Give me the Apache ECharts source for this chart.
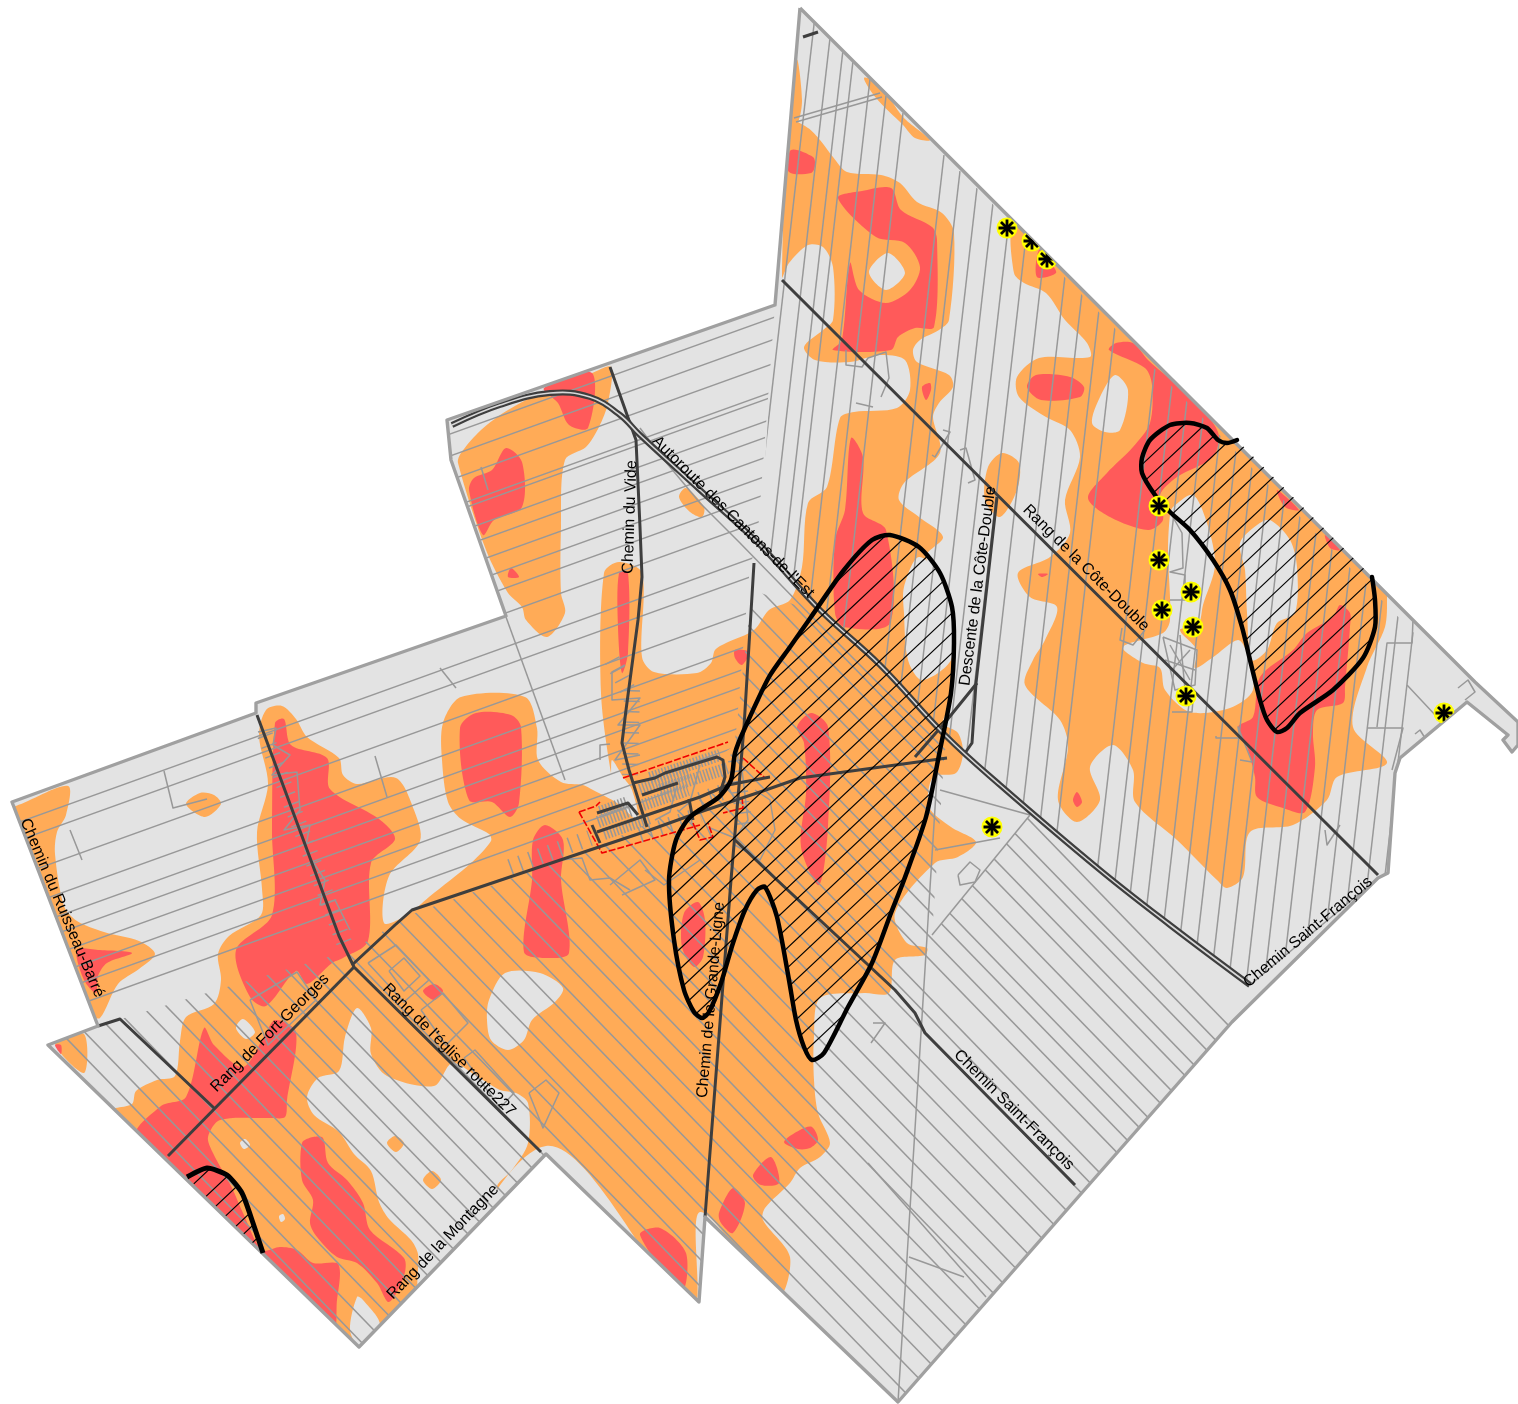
<!DOCTYPE html>
<html><head><meta charset="utf-8">
<style>html,body{margin:0;padding:0;background:#fff}#map{width:1518px;height:1404px}</style>
<script src="https://cdn.jsdelivr.net/npm/echarts@6/dist/echarts.min.js"></script>
</head><body><div id="map"></div>
<script>
// ---- data: map coordinates ----
const territory=[[800,8],[1475,682],[1518,722],[1518,745],[1512,752],[1503,740],[1508,735],[1467,702],[1400,758],[1395,773],[1388,873],[1378,878],[1232,1022],[898,1402],[705,1217],[699,1302],[546,1154],[359,1347],[48,1045],[98,1026],[12,802],[256,713],[256,703],[506,616],[451,460],[447,420],[775,305]];
const orangeZones=[
[[791,122],[808,128],[820,140],[833,157],[847,172],[881,175],[900,183],[917,202],[942,213],[954,233],[949,320],[939,330],[920,340],[913,350],[917,362],[949,375],[953,387],[939,403],[933,417],[940,453],[904,483],[899,500],[919,517],[943,537],[926,557],[950,600],[952,700],[943,723],[958,733],[963,753],[956,773],[933,777],[929,807],[951,827],[976,842],[958,857],[935,863],[895,913],[907,943],[927,948],[925,955],[895,960],[889,993],[864,993],[820,998],[814,1037],[814,1080],[818,1113],[830,1143],[820,1157],[800,1168],[790,1183],[765,1208],[763,1220],[790,1257],[778,1296],[700,1212],[692,1310],[546,1146],[359,1360],[110,1112],[132,1104],[136,1091],[157,1080],[175,1076],[180,1041],[186,1017],[214,1004],[221,980],[218,954],[229,936],[261,915],[262,889],[257,832],[268,784],[259,736],[266,710],[282,706],[296,719],[307,737],[339,758],[343,775],[357,784],[396,778],[414,810],[420,841],[389,876],[384,923],[407,915],[429,897],[471,863],[491,841],[489,834],[461,819],[448,802],[442,760],[443,723],[461,697],[525,697],[537,728],[538,760],[561,782],[583,785],[593,790],[617,803],[638,820],[632,790],[623,777],[612,760],[611,773],[601,693],[604,573],[619,562],[642,573],[642,657],[654,672],[697,673],[711,663],[715,650],[726,643],[754,630],[769,610],[790,600],[802,567],[808,503],[827,487],[840,418],[854,412],[897,408],[910,390],[905,360],[880,355],[850,362],[815,360],[804,347],[823,330],[833,320],[833,267],[823,247],[808,245],[789,263],[782,277]],
[[592,373],[611,367],[608,403],[599,427],[586,447],[565,460],[561,527],[561,593],[565,613],[547,637],[526,620],[522,607],[508,593],[486,550],[458,463],[461,453],[481,430],[508,410],[547,390]],
[[679,497],[686,488],[704,507],[702,517],[690,512]],
[[988,467],[1002,453],[1019,463],[1017,490],[1000,517],[985,500]],
[[186,804],[200,793],[214,795],[221,804],[205,817]],
[[16,806],[68,786],[66,815],[57,832],[55,854],[64,906],[77,921],[104,932],[139,941],[155,954],[139,969],[118,984],[100,1018],[90,1013],[12,804]],
[[1014,225],[1014,273],[1024,283],[1046,293],[1065,320],[1087,343],[1090,357],[1039,358],[1017,377],[1019,397],[1046,417],[1070,430],[1080,457],[1065,500],[1070,533],[1050,557],[1018,573],[1030,597],[1057,607],[1045,640],[1033,660],[1025,685],[1060,720],[1068,747],[1058,800],[1077,822],[1100,800],[1090,767],[1113,745],[1133,770],[1135,802],[1177,840],[1217,880],[1227,888],[1243,877],[1250,832],[1293,825],[1327,800],[1337,777],[1387,763],[1353,727],[1367,667],[1385,627],[1387,597],[1385,585],[1060,250]],
[[864,78],[879,83],[903,117],[930,140],[915,138],[903,125],[876,98]],
[[797,60],[802,100],[798,122],[791,122]],
[[55,1043],[84,1034],[84,1073]]
];
const clearZones=[
[[869,272],[888,253],[905,273],[886,290]],
[[904,587],[919,557],[947,583],[954,613],[951,660],[922,680],[908,660],[904,613]],
[[357,1008],[371,1028],[371,1054],[387,1076],[434,1086],[452,1063],[475,1075],[500,1090],[516,1093],[528,1103],[528,1143],[512,1170],[497,1186],[500,1205],[420,1288],[418,1254],[411,1240],[389,1219],[379,1202],[371,1171],[354,1154],[339,1132],[314,1115],[307,1097],[318,1078],[339,1071],[345,1037]],
[[489,1000],[505,973],[540,973],[563,988],[555,1002],[532,1020],[524,1040],[508,1050],[491,1040],[487,1020]],
[[357,1297],[363,1300],[380,1325],[360,1347],[350,1330]],
[[236,1028],[243,1019],[255,1032],[246,1039]],
[[240,1143],[245,1139],[250,1145],[244,1149]],
[[279,1216],[283,1214],[285,1219],[281,1222]],
[[1092,423],[1100,397],[1115,375],[1128,390],[1120,430],[1105,432]],
[[1173,507],[1193,495],[1207,523],[1215,565],[1203,605],[1198,625],[1180,630],[1197,650],[1195,668],[1212,658],[1238,640],[1247,653],[1253,690],[1230,708],[1190,712],[1165,690],[1160,668],[1143,663],[1123,647],[1163,633],[1170,620],[1168,550],[1170,515]],
[[1240,543],[1257,525],[1270,520],[1290,540],[1297,567],[1295,613],[1277,623],[1267,650],[1252,660],[1247,613],[1245,570]]
];
const orangeIslands=[
[[387,1143],[395,1136],[404,1143],[396,1152]],
[[423,1180],[432,1171],[441,1180],[432,1189]]
];
const redZones=[
[[838,198],[862,191],[891,188],[901,210],[932,227],[937,240],[934,327],[915,328],[898,337],[891,350],[833,350],[842,340],[850,263],[859,290],[886,303],[910,290],[920,267],[905,243],[876,237]],
[[791,150],[813,157],[815,166],[811,173],[789,172]],
[[922,387],[930,383],[931,390],[926,400]],
[[1039,250],[1050,262],[1056,273],[1037,277]],
[[1027,387],[1036,375],[1070,377],[1084,387],[1080,397],[1041,400]],
[[1109,350],[1116,343],[1133,343],[1148,360],[1190,397],[1218,432],[1213,457],[1177,477],[1160,495],[1163,520],[1148,530],[1110,517],[1088,498],[1107,473],[1133,447],[1150,423],[1152,385],[1145,368]],
[[1340,605],[1350,613],[1350,627],[1345,687],[1343,703],[1317,710],[1313,733],[1315,767],[1305,812],[1283,808],[1257,797],[1255,777],[1247,747],[1238,727],[1253,717],[1260,677],[1293,650],[1307,633],[1333,617]],
[[1277,490],[1299,510],[1285,507]],
[[1325,535],[1340,550],[1330,548]],
[[1077,792],[1082,802],[1077,807],[1073,800]],
[[1038,574],[1048,574],[1042,577]],
[[851,438],[863,457],[863,513],[886,530],[890,623],[844,627],[835,613],[835,540],[845,510]],
[[797,727],[811,713],[828,727],[828,827],[819,885],[801,847],[806,793],[804,743]],
[[619,573],[628,573],[628,653],[622,673],[618,627]],
[[735,650],[749,652],[742,665],[735,658]],
[[460,728],[476,713],[511,715],[521,727],[519,803],[510,817],[492,802],[469,800]],
[[533,840],[545,825],[563,840],[561,880],[569,953],[545,958],[524,952],[532,880]],
[[506,448],[522,462],[522,507],[494,520],[483,535],[469,490],[474,478],[492,470]],
[[544,388],[592,373],[588,428],[569,425],[558,403]],
[[508,577],[511,568],[519,577]],
[[684,913],[698,902],[705,920],[703,957],[694,967],[682,947]],
[[784,1142],[800,1130],[812,1127],[818,1140],[810,1148],[798,1149]],
[[753,1175],[771,1157],[779,1183],[761,1185]],
[[719,1213],[733,1188],[745,1203],[733,1233],[721,1223]],
[[640,1235],[660,1228],[686,1253],[682,1290]],
[[275,723],[284,719],[291,745],[327,758],[330,789],[379,819],[395,839],[371,863],[368,941],[343,958],[332,963],[307,984],[296,971],[266,1006],[250,997],[236,950],[272,915],[272,830]],
[[204,1028],[214,1045],[243,1067],[264,1037],[275,1020],[296,1032],[287,1100],[285,1117],[270,1118],[220,1120],[208,1137],[213,1153],[232,1188],[243,1213],[262,1250],[280,1247],[297,1250],[313,1263],[337,1263],[340,1273],[337,1300],[332,1332],[136,1139],[161,1106],[186,1097]],
[[302,1143],[313,1137],[323,1138],[328,1163],[347,1180],[363,1203],[370,1230],[404,1258],[404,1276],[389,1302],[377,1283],[357,1263],[337,1257],[317,1237],[310,1223],[313,1200],[302,1180]],
[[77,950],[98,950],[132,953],[107,963],[98,976],[96,993],[84,980]],
[[423,991],[434,984],[443,991],[434,1000]],
[[55,1045],[61,1045],[61,1054]]
];
const northLotTops=[[815,16],[830,38],[843,50],[853,61],[870,79],[886,96],[903,113],[944,155],[960,171],[977,188],[993,203],[1009,220],[1026,237],[1044,255],[1065,276],[1082,293],[1099,310],[1115,327],[1155,368],[1172,385],[1187,400],[1203,417],[1220,434],[1236,451],[1252,467],[1268,484],[1284,500],[1300,516],[1316,533],[1332,549],[1350,567],[1366,583],[1382,600],[1398,616],[1413,632]];
const northLotClip=[[800,8],[1475,695],[1400,758],[1395,773],[1388,873],[1378,878],[1250,985],[1100,870],[1000,785],[945,735],[880,665],[820,610],[760,545],[775,305]];
const northLotLean=-0.115;
const westLotLevels=[488,510,534,562,567,589,605,625,644,662,687,721,739,774,807,829,846,866,886,904,925];
const westLotClip=[[12,802],[256,713],[256,703],[506,616],[451,460],[447,420],[775,305],[757,545],[750,565],[735,745],[590,850],[410,915],[352,950],[200,995],[98,1026]];
const westLotSlope=-0.36;
const southLotLevels=[-240,-212,-193,-165,-145,-116,-92,-65,-46,-21,2,40,60,79,112,139,165,195,222,250,270,300,330,352,380,405,432,460,485,510,538,565,595,620,650,675,700,728,752,782,808,835,860,890,915,945,970];
const southLotClip=[[48,1045],[98,1026],[200,995],[352,950],[410,915],[590,850],[720,790],[735,740],[752,590],[810,610],[945,745],[932,935],[1030,815],[1252,985],[1232,1022],[898,1402],[705,1217],[699,1302],[546,1154],[359,1347]];
const southLotSlope=1.03;
const parcelLines=[
[[938,760],[898,1402]],[[1030,815],[932,935]],[[940,790],[1030,815]],[[935,850],[1000,838]],
[[909,1257],[964,1277]],[[868,1163],[986,1297]],[[1378,878],[1250,985]],
[[794,118],[880,93]],[[796,122],[882,97]],
[[640,428],[660,455],[700,503],[740,543],[820,625],[945,750]],
[[164,771],[173,808],[207,799]],[[70,830],[82,860]],[[375,756],[387,797]],[[481,467],[488,490]],[[506,617],[565,780]],[[440,668],[456,688]],
[[846,350],[846,365],[862,367],[868,358],[886,352],[889,378],[881,397]],
[[856,403],[873,407]],[[943,430],[950,432],[935,457],[932,455]],[[960,450],[966,448],[975,480],[968,483]],
[[1170,512],[1182,533],[1183,568],[1170,572],[1185,575],[1185,600],[1170,600]],[[1122,628],[1120,640],[1133,645],[1145,630]],
[[1216,736],[1216,738],[1240,738],[1238,727],[1252,762],[1240,760]],[[1325,830],[1327,845],[1340,825]],
[[1413,620],[1412,643],[1387,643],[1377,727]],[[1407,685],[1437,717]],[[1368,728],[1403,728],[1392,770]],
[[1458,688],[1468,680],[1475,692],[1465,700]],[[1415,734],[1420,730],[1425,738]],
[[1163,637],[1197,650],[1195,685],[1175,690],[1163,637]],[[1170,645],[1190,680]],[[1190,650],[1172,670]],[[1165,660],[1195,670]],[[1180,635],[1185,690]],[[1172,712],[1192,712],[1193,700]],
[[958,875],[970,862],[980,870],[975,882],[960,885],[958,875]],
[[368,963],[396,945],[429,980],[404,1002],[368,963]],[[389,971],[404,958],[420,976],[404,991],[389,971]],
[[421,1010],[443,993],[468,1023],[446,1045],[421,1010]],[[464,1058],[475,1050],[514,1093],[500,1108],[464,1058]],
[[529,1093],[546,1080],[559,1093],[543,1128],[529,1093]],[[250,1000],[297,972],[316,1000],[268,1045],[250,1000]],
[[610,885],[640,860],[655,880],[622,895]],[[560,860],[582,858],[590,880],[610,878],[630,890]],[[700,860],[664,885],[645,870]],
[[873,1023],[885,1023],[871,1043]],
[[258,732],[276,728],[273,745],[290,755],[272,775],[297,772],[300,810],[284,830],[310,825],[305,850],[325,880],[320,905],[335,900],[350,930]],
[[625,665],[612,672],[612,700],[640,698],[618,725],[640,725],[615,760],[640,755]],
[[742,770],[748,820],[735,838],[710,828]],[[755,790],[770,800],[775,830],[760,860],[735,845]],
[[600,760],[600,745],[610,744]],[[760,700],[737,740],[738,760]],
[[722,775],[735,800],[700,812],[712,838]],[[677,785],[670,812],[655,820]],[[700,765],[690,802],[678,812]]
];
const parcelHash=[
[[598,822],[632,810]],[[604,834],[650,818]],[[600,812],[628,802]],[[640,806],[688,790]],[[640,790],[690,772]],[[650,778],[720,755]],[[660,790],[728,768]]
];
const parcelHashWide=[
[[640,835],[700,815]],[[510,867],[590,838]],[[632,690],[630,775]],[[736,760],[745,830]],[[265,735],[345,945]],[[700,800],[728,790]],[[612,660],[628,690]]
];
const townBoundary=[
[[623,778],[728,742]],[[579,812],[602,853],[700,825]],[[579,812],[596,806],[600,802]],
[[693,823],[700,840],[713,837],[708,823]],[[743,758],[765,778]],[[742,797],[743,808],[723,813]]
];
const roads=[
[[352,965],[395,925],[412,910],[590,850],[650,830],[700,812],[760,792],[800,778],[947,758]],
[[597,832],[700,797],[728,785],[770,777]],
[[610,367],[636,440],[640,527],[642,577],[638,620],[626,710],[622,743],[629,770],[647,827]],
[[754,563],[744,727],[731,880],[705,1217]],
[[782,280],[1378,875]],
[[735,840],[777,880],[895,990],[915,1013],[925,1033],[1075,1185]],
[[257,715],[339,936],[354,967],[541,1152]],
[[354,967],[168,1156]],
[[98,1026],[120,1019],[214,1108]],
[[997,497],[976,683],[972,743],[965,753]],
[[977,683],[947,720],[915,757]],
[[803,37],[818,32]],
[[597,813],[628,803],[638,815]],[[642,795],[678,783]],
[[633,783],[655,778],[665,773],[717,757],[723,760],[725,777],[720,793]],
[[592,825],[600,843]],[[689,799],[693,820]]
];
const autoroute=[[452,425],[500,405],[550,393],[590,397],[620,415],[640,435],[700,490],[760,545],[820,610],[880,665],[945,735],[1000,785],[1100,870],[1170,925],[1250,985]];
const hatchMain=[[811,617],[844,570],[872,540],[890,535],[919,547],[940,573],[952,607],[954,643],[951,693],[940,750],[926,817],[904,880],[891,913],[872,963],[848,1007],[824,1053],[812,1060],[804,1047],[796,1020],[789,980],[777,917],[765,887],[757,890],[745,910],[733,943],[721,983],[709,1012],[702,1018],[694,1012],[684,990],[674,940],[669,880],[676,840],[690,817],[719,797],[731,780],[735,753],[744,730],[769,677],[790,647]];
const hatchNorthEast=[[1237,440],[1227,443],[1218,440],[1207,428],[1190,423],[1170,425],[1150,440],[1142,458],[1142,473],[1155,495],[1170,512],[1190,530],[1213,560],[1230,590],[1242,627],[1250,660],[1260,700],[1267,720],[1277,732],[1287,728],[1300,713],[1333,690],[1363,658],[1375,627],[1375,600],[1372,577]];
const hatchSouthWest=[[187,1177],[207,1168],[227,1175],[242,1193],[253,1223],[263,1253]];
const hatchLevelsMain=[1368,1388,1408,1428,1448,1468,1488,1508,1528,1548,1568,1588,1608,1628,1648,1668,1688,1708,1728,1748,1768,1788,1808,1828];
const hatchLevelsNorthEast=[1518,1538,1557,1577,1596,1616,1635,1655,1674,1694,1713,1733,1752,1772,1791,1811,1830,1850,1869,1889,1908,1928];
const hatchLevelsSouthWest=[1366,1390,1409,1428,1448,1463,1480];
const hatchSlope=-0.94;
const wellPoints=[[1007,228],[1032,241],[1047,259],[1159,506],[1159,560],[1191,592],[1162,610],[1193,627],[1186,696],[1444,713],[992,827]];
const placeNames=["Autoroute des Cantons-de-l'Est","Chemin du Vide","Descente de la Côte-Double","Rang de la Côte-Double","Chemin Saint-François","Chemin Saint-François","Chemin de la Grande-Ligne","Rang de l'église route227","Rang de Fort-Georges","Rang de la Montagne","Chemin du Ruisseau-Barré"];
const placeAnchors=[[733,517],[630,517],[978,586],[1086,568],[1308,932],[1014,1110],[711,1000],[449,1050],[270,1033],[443,1242],[62,908]];
const placeAngles=[-45,88,82.5,-45,40,-45,85,-45,45,46,-67];

// ---- drawing ----
const chart=echarts.init(document.getElementById('map'),null,{renderer:'canvas'});
const pts=(api,list)=>list.map(p=>api.coord(p));
const clipOf=(api,list)=>({type:'polygon',shape:{points:pts(api,list)}});
function layer(name,items,build){
  return {type:'custom',name,coordinateSystem:'cartesian2d',silent:true,animation:false,clip:false,
    data:items.map((_,i)=>[i,i]),renderItem:(p,api)=>build(items[p.dataIndex],api,p.dataIndex)};
}
const blob=0.3;
const zone=(fill,clip)=>(poly,api)=>({type:'polygon',shape:{points:pts(api,poly),smooth:clip?blob:0},style:{fill,stroke:null},clipPath:clip?clipOf(api,clip):undefined});
const path=(stroke,lineWidth,extra,smooth)=>(line,api)=>({type:'polyline',shape:{points:pts(api,line),smooth:smooth||0},style:Object.assign({fill:null,stroke,lineWidth,lineJoin:'round'},extra||{})});
const ruled=(clip)=>(seg,api)=>({type:'polyline',shape:{points:pts(api,seg)},style:{fill:null,stroke:'#989898',lineWidth:1.5},clipPath:clipOf(api,clip)});
const northSegs=northLotTops.map(t=>[t,[t[0]+northLotLean*1200,t[1]+1200]]);
const westSegs=westLotLevels.map(c=>[[0,c-westLotSlope*300],[900,c+westLotSlope*600]]);
const southSegs=southLotLevels.map(d=>[[0,d],[1300,d+southLotSlope*1300]]);
function hatch(line,levels){
  return layer('hatch',[0],(_,api)=>({type:'group',clipPath:clipOf(api,line),children:levels.map(c=>{
    const a=api.coord([0,c]),b=api.coord([1518,c+hatchSlope*1518]);
    return {type:'line',shape:{x1:a[0],y1:a[1],x2:b[0],y2:b[1]},style:{stroke:'#000',lineWidth:1.2}};
  })}));
}
const series=[
 layer('territory',[territory],zone('#e3e3e3')),
 layer('orange',orangeZones,zone('#ffab57',territory)),
 layer('clear',clearZones,zone('#e3e3e3',territory)),
 layer('orange islands',orangeIslands,zone('#ffab57',territory)),
 layer('red',redZones,zone('#ff5a5a',territory)),
 layer('north lots',northSegs,ruled(northLotClip)),
 layer('west lots',westSegs,ruled(westLotClip)),
 layer('south lots',southSegs,ruled(southLotClip)),
 layer('parcels',parcelLines,path('#989898',1.5)),
 layer('parcel hash',parcelHash,path('#989898',12,{lineDash:[1.5,1.8],lineCap:'butt'})),
 layer('parcel hash wide',parcelHashWide,path('#989898',16,{lineDash:[1.5,9],lineCap:'butt'})),
 layer('town boundary',townBoundary,path('#f00000',1.6,{lineDash:[7,2]})),
 layer('roads',roads,path('#3e3e3e',3)),
 layer('autoroute casing',[autoroute],path('#3e3e3e',6,null,0.4)),
 layer('autoroute median',[autoroute],path('#d8d8d8',1.6,null,0.4)),
 layer('outline',[territory.concat([territory[0]])],path('#a0a0a0',3.4)),
 hatch(hatchMain,hatchLevelsMain),
 hatch(hatchNorthEast,hatchLevelsNorthEast),
 hatch(hatchSouthWest.concat([[187,1177]]),hatchLevelsSouthWest),
 layer('zone border',[hatchMain],(l,api)=>({type:'polygon',shape:{points:pts(api,l),smooth:0.25},style:{fill:null,stroke:'#000',lineWidth:4.5,lineJoin:'round'}})),
 layer('zone border',[hatchNorthEast],(l,api)=>({type:'polyline',shape:{points:pts(api,l),smooth:0.25},style:{fill:null,stroke:'#000',lineWidth:4.5,lineJoin:'round',lineCap:'round'}})),
 layer('zone border',[hatchSouthWest],(l,api)=>({type:'polyline',shape:{points:pts(api,l),smooth:0.2},style:{fill:null,stroke:'#000',lineWidth:5,lineJoin:'round'}})),
 layer('wells',wellPoints,(w,api)=>{
   const c=api.coord(w),r=8.5;
   const arms=[[0,1],[1,0],[.71,.71],[.71,-.71]].map(a=>({type:'line',shape:{x1:c[0]-a[0]*r,y1:c[1]-a[1]*r,x2:c[0]+a[0]*r,y2:c[1]+a[1]*r},style:{stroke:'#000',lineWidth:2.8}}));
   return {type:'group',clipPath:clipOf(api,territory),children:[{type:'circle',shape:{cx:c[0],cy:c[1],r:10.5},style:{fill:'#ffff00'}}].concat(arms)};
 }),
 layer('labels',placeNames,(name,api,i)=>{
   const c=api.coord(placeAnchors[i]);
   return {type:'text',x:c[0],y:c[1],rotation:placeAngles[i]*Math.PI/180,style:{text:name,fill:'#000',font:'16px "Liberation Sans", Arial, sans-serif',align:'center',verticalAlign:'middle'}};
 })
];
chart.setOption({animation:false,backgroundColor:'#fff',
  grid:{left:0,right:0,top:0,bottom:0,containLabel:false},
  xAxis:{type:'value',min:0,max:1518,show:false},
  yAxis:{type:'value',min:0,max:1404,inverse:true,show:false},
  tooltip:{show:false},series});
</script></body></html>
